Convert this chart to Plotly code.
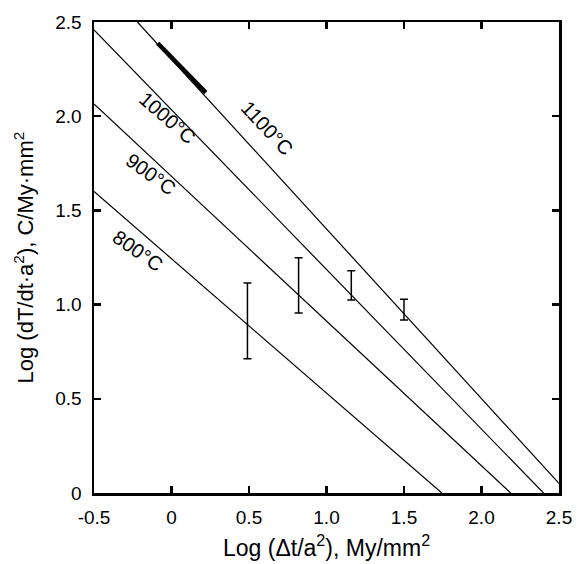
import plotly.graph_objects as go

# ---- data ----
temp_labels = ["800°C", "900°C", "1000°C", "1100°C"]
line_x_start = [-0.5, -0.5, -0.5, -0.22]
line_y_start = [1.60, 2.065, 2.458, 2.5]
line_x_end = [1.744, 2.188, 2.400, 2.5]
line_y_end = [0.0, 0.0, 0.0, 0.051]

thick_x = [-0.089, 0.221]
thick_y = [2.387, 2.125]

err_x = [0.49, 0.82, 1.16, 1.5]
err_low = [0.713, 0.955, 1.024, 0.918]
err_high = [1.115, 1.249, 1.180, 1.028]

x_tickvals = [-0.5, 0, 0.5, 1.0, 1.5, 2.0, 2.5]
x_ticktext = ["-0.5", "0", "0.5", "1.0", "1.5", "2.0", "2.5"]
y_tickvals = [0, 0.5, 1.0, 1.5, 2.0, 2.5]
y_ticktext = ["0", "0.5", "1.0", "1.5", "2.0", "2.5"]

# label placement (layout)
label_x = [-0.215, -0.135, -0.025, 0.615]
label_y = [1.285, 1.692, 1.990, 1.935]
label_angle = [35, 36, 41, 47]

FONT = "Liberation Sans, Arial, Helvetica, sans-serif"

fig = go.Figure()

for i in range(len(temp_labels)):
    fig.add_trace(go.Scatter(
        x=[line_x_start[i], line_x_end[i]],
        y=[line_y_start[i], line_y_end[i]],
        mode="lines", line=dict(color="black", width=1.2),
        showlegend=False, hoverinfo="skip"))

fig.add_trace(go.Scatter(
    x=thick_x, y=thick_y, mode="lines",
    line=dict(color="black", width=4.5), showlegend=False))

mid = [(lo + hi) / 2 for lo, hi in zip(err_low, err_high)]
fig.add_trace(go.Scatter(
    x=err_x, y=mid, mode="markers",
    marker=dict(size=1, color="rgba(0,0,0,0)"),
    error_y=dict(type="data", symmetric=False,
                 array=[h - m for h, m in zip(err_high, mid)],
                 arrayminus=[m - l for m, l in zip(mid, err_low)],
                 color="black", thickness=1.5, width=4),
    showlegend=False))

annotations = []
for i, t in enumerate(temp_labels):
    annotations.append(dict(
        x=label_x[i], y=label_y[i], xref="x", yref="y", text=t,
        showarrow=False, textangle=label_angle[i],
        font=dict(family=FONT, size=20, color="black"),
        xanchor="center", yanchor="middle"))

annotations.append(dict(
    x=0.5, y=0, xref="paper", yref="paper", yshift=-70,
    text="Log (Δt/a<sup>2</sup>), My/mm<sup>2</sup>", showarrow=False,
    font=dict(family=FONT, size=23, color="black"),
    xanchor="center", yanchor="bottom"))
annotations.append(dict(
    x=0, y=0.5, xref="paper", yref="paper", xshift=-71,
    text="Log (dT/dt·a<sup>2</sup>), C/My·mm<sup>2</sup>", showarrow=False,
    textangle=-90,
    font=dict(family=FONT, size=22, color="black"),
    xanchor="center", yanchor="middle"))

axis_common = dict(
    showline=True, linecolor="black", linewidth=2.5, mirror="ticks",
    ticks="inside", ticklen=7, tickwidth=2.5, tickcolor="black",
    showgrid=False, zeroline=False,
    tickfont=dict(family=FONT, size=19, color="black"),
)

fig.update_layout(
    width=584, height=564,
    margin=dict(l=94, r=17, t=22, b=71),
    paper_bgcolor="white", plot_bgcolor="white",
    xaxis=dict(range=[-0.5, 2.5], tickvals=x_tickvals, ticktext=x_ticktext,
               ticklabelstandoff=6, **axis_common),
    yaxis=dict(range=[0, 2.5], tickvals=y_tickvals, ticktext=y_ticktext,
               ticklabelstandoff=6, **axis_common),
    annotations=annotations,
    showlegend=False,
)

fig.write_html("out.html",
               config={"displayModeBar": False, "staticPlot": True},
               post_script="document.body.style.margin='0';document.body.style.overflow='hidden';")
